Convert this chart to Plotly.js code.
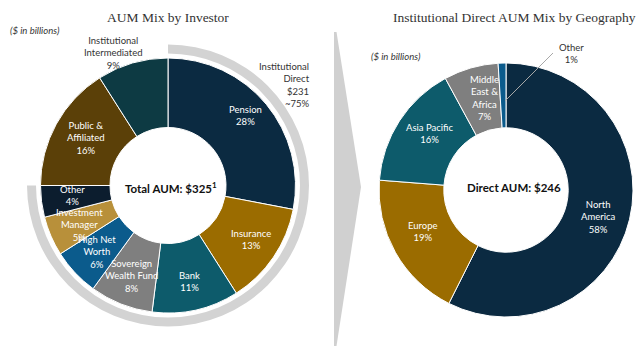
<!DOCTYPE html>
<html><head><meta charset="utf-8">
<script src="https://cdn.plot.ly/plotly-3.0.1.min.js"></script>
<style>html,body{margin:0;padding:0;background:#fff}#c{width:640px;height:350px}</style>
</head><body><div id="c"></div>
<script>
// Left: AUM by investor
const investorLabels = ["Pension","Insurance","Bank","Sovereign Wealth Fund","High Net Worth","Investment Manager","Other","Public & Affiliated","Institutional Intermediated"];
const investorValues = [28,13,11,8,6,5,4,16,9];
const investorText = ["Pension<br>28%","Insurance<br>13%","Bank<br>11%","Sovereign<br>Wealth Fund<br>8%","High Net<br>Worth<br>6%","Investment<br>Manager<br>5%","Other<br>4%","Public &<br>Affiliated<br>16%","Institutional<br>Intermediated<br>9%"];
const investorColors = ["#0b2a41","#9b6c00","#0d5b6b","#7f7f7f","#0b5b8c","#b8903a","#0c1d2e","#5b4008","#0d3a43"];
const totalAUM = 325;
// Grouping arc
const groupLabels = ["Institutional Direct","Rest"];
const groupValues = [75,25];
const groupAmount = 231;
// Right: Institutional direct by geography
const geoLabels = ["North America","Europe","Asia Pacific","Middle East & Africa","Other"];
const geoValues = [58,19,16,7,1];
const geoText = ["North<br>America<br>58%","Europe<br>19%","Asia Pacific<br>16%","Middle<br>East &<br>Africa<br>7%","Other<br>1%"];
const geoColors = ["#0b2a41","#9b6c00","#0d5b6b","#7f7f7f","#0b5b8c"];
const directAUM = 246;

const W=640,H=350;
const px=x=>x/W, py=y=>1-y/H;
function dom(cx,cy,r){return {x:[px(cx-r),px(cx+r)],y:[py(cy+r),py(cy-r)]};}

const LC={x:168,y:185.5,r:127.5}, RC={x:506,y:190,r:127};

const traces=[
 {type:'pie',labels:groupLabels,values:groupValues,sort:false,direction:'clockwise',rotation:0,
  hole:132/141,domain:dom(LC.x,LC.y,141),marker:{colors:['#d3d3d3','rgba(0,0,0,0)'],line:{width:0}},
  textinfo:'none',hoverinfo:'skip',showlegend:false},
 {type:'pie',labels:investorLabels,values:investorValues,sort:false,direction:'clockwise',rotation:0,
  hole:0.455,domain:dom(LC.x,LC.y,LC.r),marker:{colors:investorColors,line:{color:'#ffffff',width:1}},
  textinfo:'none',hoverinfo:'skip',showlegend:false},
 {type:'pie',labels:geoLabels,values:geoValues,sort:false,direction:'clockwise',rotation:0,
  hole:0.49,domain:dom(RC.x,RC.y,RC.r),marker:{colors:geoColors,line:{color:'#ffffff',width:1}},
  textinfo:'none',hoverinfo:'skip',showlegend:false}
];

const F='Lato, "Open Sans", sans-serif';
const wf={family:F,size:9.5,color:'#ffffff'};
const df={family:F,size:9.5,color:'#333333'};
// label positions (pixels)
const invPos=[[245,116],[251,239],[189,281],[131,276],[97,252],[79,225],[72,195],[86,138],[113,53]];
const geoPos=[[598,217],[423,231],[430,133],[484,98],[571,54]];
const ann=[];
invPos.forEach((p,i)=>ann.push({xref:'paper',yref:'paper',x:px(p[0]),y:py(p[1]),xanchor:'center',yanchor:'middle',showarrow:false,text:investorText[i],font:i===8?df:wf}));
geoPos.forEach((p,i)=>ann.push({xref:'paper',yref:'paper',x:px(p[0]),y:py(p[1]),xanchor:'center',yanchor:'middle',showarrow:false,text:geoText[i],font:i===4?df:wf}));
ann.push({xref:'paper',yref:'paper',x:px(312),y:py(85),xanchor:'right',yanchor:'middle',align:'right',showarrow:false,
  text:'Institutional<br>Direct<br>$'+groupAmount+'<br>~'+groupValues[0]+'%',font:df});
ann.push({xref:'paper',yref:'paper',x:px(171),y:py(187),xanchor:'center',yanchor:'middle',showarrow:false,
  text:'<b>Total AUM: $'+totalAUM+'<sup>1</sup></b>',font:{family:F,size:11.5,color:'#111111'}});
ann.push({xref:'paper',yref:'paper',x:px(514),y:py(187),xanchor:'center',yanchor:'middle',showarrow:false,
  text:'<b>Direct AUM: $'+directAUM+'</b>',font:{family:F,size:11.5,color:'#111111'}});
ann.push({xref:'paper',yref:'paper',x:px(167.5),y:py(17),xanchor:'center',yanchor:'middle',showarrow:false,
  text:'AUM Mix by Investor',font:{family:'"Liberation Serif", serif',size:13.5,color:'#333333'}});
ann.push({xref:'paper',yref:'paper',x:px(514.5),y:py(18),xanchor:'center',yanchor:'middle',showarrow:false,
  text:'Institutional Direct AUM Mix by Geography',font:{family:'"Liberation Serif", serif',size:13.5,color:'#333333'}});
ann.push({xref:'paper',yref:'paper',x:px(8),y:py(31),xanchor:'left',yanchor:'middle',showarrow:false,
  text:'<i>($ in billions)</i>',font:{family:F,size:9.5,color:'#333333'}});
ann.push({xref:'paper',yref:'paper',x:px(369),y:py(57),xanchor:'left',yanchor:'middle',showarrow:false,
  text:'<i>($ in billions)</i>',font:{family:F,size:9.5,color:'#333333'}});

const shapes=[
 {type:'path',xref:'paper',yref:'paper',layer:'below',
  path:`M ${px(334)} ${py(32)} L ${px(336.5)} ${py(32)} L ${px(361)} ${py(187)} L ${px(336.5)} ${py(346)} L ${px(334)} ${py(346)} Z`,
  fillcolor:'#d0d0d0',line:{width:0}},
 {type:'line',xref:'paper',yref:'paper',x0:px(553),y0:py(53),x1:px(505),y1:py(101),line:{color:'#a8a8a8',width:1}}
];

Plotly.newPlot('c',traces,{width:W,height:H,margin:{l:0,r:0,t:0,b:0},paper_bgcolor:'#fff',
  showlegend:false,annotations:ann,shapes:shapes},{staticPlot:true,displayModeBar:false});
</script></body></html>
